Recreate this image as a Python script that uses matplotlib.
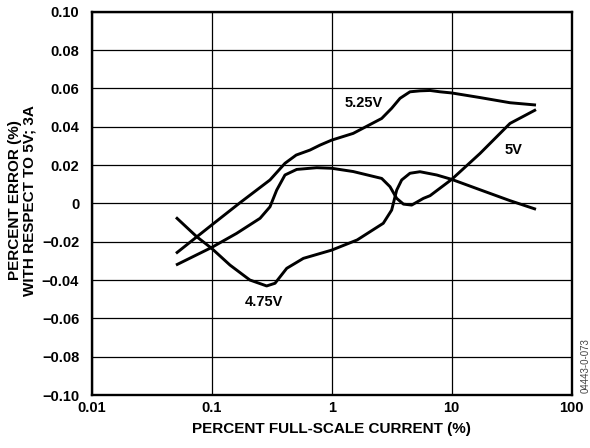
import numpy as np
import matplotlib
matplotlib.use("Agg")
import matplotlib.pyplot as plt

plt.rcParams['font.family'] = ['Liberation Sans', 'DejaVu Sans']
plt.rcParams['font.weight'] = 'bold'

# percent full-scale current (%) vs percent error (%)
x_525 = [0.0504, 0.1, 0.172, 0.306, 0.408, 0.506, 0.659, 0.80, 1.0, 1.51,
         2.61, 3.16, 3.71, 4.49, 5.44, 6.6, 8.0, 10, 17.2, 30.6, 50.4]
y_525 = [-0.0261, -0.0113, 0.0003, 0.0122, 0.0209, 0.0252, 0.0278, 0.0304,
         0.033, 0.0365, 0.0443, 0.0496, 0.0548, 0.0582, 0.0587, 0.0589,
         0.0582, 0.0576, 0.0552, 0.0525, 0.0513]

x_5 = [0.0504, 0.1, 0.161, 0.253, 0.306, 0.348, 0.408, 0.511, 0.75, 1.0,
       1.51, 2.61, 3.06, 3.48, 3.96, 4.64, 5.81, 6.6, 10, 17.2, 30.6, 50.4]
y_5 = [-0.0322, -0.023, -0.0157, -0.0078, -0.0018, 0.0069, 0.0148, 0.0177,
       0.0186, 0.0183, 0.0166, 0.013, 0.0087, 0.0026, -0.0004, -0.0009,
       0.0026, 0.004, 0.0125, 0.026, 0.0417, 0.0489]

x_475 = [0.0504, 0.075, 0.1, 0.142, 0.208, 0.287, 0.337, 0.422, 0.581, 1.0,
         1.63, 2.69, 3.16, 3.48, 3.83, 4.49, 5.44, 7.5, 10, 17.2, 30.6, 50.4]
y_475 = [-0.0073, -0.0174, -0.0235, -0.0322, -0.040, -0.0431, -0.0417,
         -0.0339, -0.0287, -0.0244, -0.0191, -0.0104, -0.0035, 0.0069, 0.0122,
         0.0157, 0.0165, 0.0148, 0.0125, 0.0071, 0.0014, -0.0031]

x_ticks = [0.01, 0.1, 1, 10, 100]
x_labels = ['0.01', '0.1', '1', '10', '100']
y_ticks = [-0.10, -0.08, -0.06, -0.04, -0.02, 0, 0.02, 0.04, 0.06, 0.08, 0.10]
y_labels = ['\u22120.10', '\u22120.08', '\u22120.06', '\u22120.04', '\u22120.02',
            '0', '0.02', '0.04', '0.06', '0.08', '0.10']

fig = plt.figure(figsize=(5.9, 4.48), dpi=100)
ax = fig.add_axes([0.1554, 0.1183, 0.8136, 0.8556])

for xs, ys in [(x_525, y_525), (x_5, y_5), (x_475, y_475)]:
    ax.plot(xs, ys, color='black', lw=2.1, solid_joinstyle='round',
            solid_capstyle='butt')

ax.set_xscale('log')
ax.set_xlim(0.01, 100)
ax.set_ylim(-0.10, 0.10)
ax.set_xticks(x_ticks)
ax.set_xticklabels(x_labels)
ax.xaxis.set_minor_locator(matplotlib.ticker.NullLocator())
ax.set_yticks(y_ticks)
ax.set_yticklabels(y_labels)
ax.tick_params(length=0, labelsize=10.5)
ax.tick_params(axis='x', pad=4)
ax.tick_params(axis='y', pad=9)
ax.grid(True, color='black', lw=0.9)
for s in ax.spines.values():
    s.set_linewidth(1.7)

ax.set_xlabel('PERCENT FULL-SCALE CURRENT (%)', fontsize=11, fontweight='bold',
              labelpad=5)
fig.text(0.038, 0.553, 'PERCENT ERROR (%)\nWITH RESPECT TO 5V; 3A', fontsize=11,
         fontweight='bold', rotation=90, ha='center', va='center',
         linespacing=1.05, multialignment='center')

ax.text(1.85, 0.0525, '5.25V', fontsize=10.5, fontweight='bold', ha='center', va='center')
ax.text(33, 0.0279, '5V', fontsize=10.5, fontweight='bold', ha='center', va='center')
ax.text(0.274, -0.0514, '4.75V', fontsize=10.5, fontweight='bold', ha='center', va='center')

fig.text(0.993, 0.185, '04443-0-073', rotation=90, fontsize=7, fontweight='normal',
         ha='center', va='center', color='#444444')

fig.savefig('out.png', dpi=100)
